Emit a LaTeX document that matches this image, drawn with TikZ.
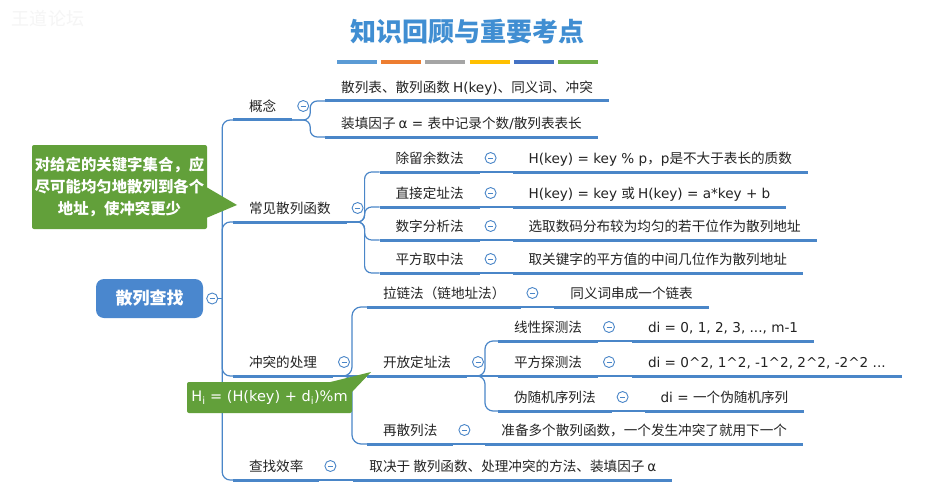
\documentclass[tikz,border=0pt]{standalone}
\usepackage{fontspec}
\usepackage{tikz}
\usetikzlibrary{positioning,calc}
\setmainfont{DejaVu Sans}
\newfontfamily\cjkfont{Noto Sans CJK SC}
% CJK characters switch to the CJK font by themselves
\XeTeXinterchartokenstate=1
\newXeTeXintercharclass\cjkclass
\newcount\cjkcnt
\newcommand{\setcjkrange}[2]{\cjkcnt=#1\relax
  \loop\XeTeXcharclass\cjkcnt=\cjkclass\relax \advance\cjkcnt by 1 \ifnum\cjkcnt<#2\relax\repeat}
\setcjkrange{"3000}{"3040}
\setcjkrange{"4E00}{"A000}
\setcjkrange{"FF00}{"FFF0}
\XeTeXinterchartoks 0 \cjkclass = {\cjkfont}
\XeTeXinterchartoks 4095 \cjkclass = {\cjkfont}
\XeTeXinterchartoks \cjkclass 0 = {\rmfamily}
\XeTeXinterchartoks 4095 0 = {\rmfamily}

\definecolor{lineblue}{RGB}{74,134,200}
\definecolor{rootblue}{RGB}{74,135,206}
\definecolor{titleblue}{RGB}{64,142,210}
\definecolor{notegreen}{RGB}{98,160,58}
\definecolor{textgray}{RGB}{35,35,35}
\definecolor{barA}{RGB}{91,155,213}
\definecolor{barB}{RGB}{237,125,49}
\definecolor{barC}{RGB}{165,165,165}
\definecolor{barD}{RGB}{255,192,0}
\definecolor{barE}{RGB}{68,114,196}
\definecolor{barF}{RGB}{112,173,71}

\tikzset{
  topic/.style={anchor=south west, inner xsep=16pt, inner ysep=0pt, outer sep=0pt,
    text height=12pt, text depth=8.8pt, text=textgray, font=\fontsize{13.6}{16}\selectfont},
  uline/.style={draw=lineblue, line width=3pt},
  link/.style={draw=lineblue, line width=1.2pt},
  fold/.style={circle, draw=lineblue, line width=0.9pt, fill=white, minimum size=11pt, inner sep=0pt,
    path picture={\draw[lineblue, line width=0.9pt]
      ([xshift=-2.5pt]path picture bounding box.center) -- ([xshift=2.5pt]path picture bounding box.center);}},
  rootbox/.style={fill=rootblue, rounded corners=8pt, minimum width=107pt, minimum height=39pt,
    text=white, font=\fontsize{17}{20}\selectfont\bfseries},
  note/.style={fill=notegreen, rounded corners=2pt, text=white, align=center, inner sep=0pt},
}

\begin{document}
\begin{tikzpicture}[x=1pt,y=-1pt]
\fill[white] (0,0) rectangle (931,492);
\useasboundingbox (0,0) rectangle (931,492);

% title and colour bars
\node[text=black!4, font=\fontsize{18}{20}\selectfont] (wm) at (48,19) {王道论坛};
\node[text=titleblue, font=\fontsize{26}{30}\selectfont\bfseries] (title) at (467,32) {知识回顾与重要考点};
\foreach \c [count=\i from 0] in {barA,barB,barC,barD,barE,barF}
  \draw[\c, line width=4.5pt] (337+44.2*\i,62) -- ++(40,0);

% root and first level
\node[rootbox] (root) at (149.5,298.5) {散列查找};
\node[topic] (gn) at (233,120) {概念};
\node[topic] (hs) at (233,222) {常见散列函数};
\node[topic] (ct) at (233,376) {冲突的处理};
\node[topic] (xl) at (233,480) {查找效率};

% 概念
\node[topic] (gn1) at ([xshift=33pt,yshift=19pt]gn.south east) {散列表、散列函数 H(key)、同义词、冲突};
\node[topic] (gn2) at ([xshift=33pt,yshift=-17pt]gn.south east) {装填因子 α = 表中记录个数/散列表表长};

% 常见散列函数
\node[topic] (fn1) at ([xshift=33pt,yshift=50pt]hs.south east) {除留余数法};
\node[topic] (fn2) at ([xshift=33pt,yshift=15pt]hs.south east) {直接定址法};
\node[topic] (fn3) at ([xshift=33pt,yshift=-18pt]hs.south east) {数字分析法};
\node[topic] (fn4) at ([xshift=33pt,yshift=-51pt]hs.south east) {平方取中法};
\node[topic, right=33pt of fn1] (fn1d) {H(key) = key \% p，p是不大于表长的质数};
\node[topic, right=33pt of fn2] (fn2d) {H(key) = key 或 H(key) = a*key + b};
\node[topic, right=33pt of fn3] (fn3d) {选取数码分布较为均匀的若干位作为散列地址};
\node[topic, right=33pt of fn4] (fn4d) {取关键字的平方值的中间几位作为散列地址};

% 冲突的处理
\node[topic] (lz) at ([xshift=34pt,yshift=69pt]ct.south east) {拉链法（链地址法）};
\node[topic] (kf) at ([xshift=34pt]ct.south east) {开放定址法};
\node[topic] (zs) at ([xshift=34pt,yshift=-68pt]ct.south east) {再散列法};
\node[topic, right=33pt of lz] (lzd) {同义词串成一个链表};
\node[topic, right=32pt of zs] (zsd) {准备多个散列函数，一个发生冲突了就用下一个};
\node[topic] (xx) at ([xshift=31pt,yshift=35pt]kf.south east) {线性探测法};
\node[topic] (pf) at ([xshift=31pt]kf.south east) {平方探测法};
\node[topic] (wsj) at ([xshift=31pt,yshift=-35pt]kf.south east) {伪随机序列法};
\node[topic, right=34pt of xx] (xxd) {di = 0, 1, 2, 3, ..., m-1};
\node[topic, right=34pt of pf] (pfd) {di = 0\textasciicircum2, 1\textasciicircum2, -1\textasciicircum2, 2\textasciicircum2, -2\textasciicircum2 ...};
\node[topic, right=33pt of wsj] (wsjd) {di = 一个伪随机序列};

% 查找效率
\node[topic, right=34pt of xl] (xld) {取决于 散列函数、处理冲突的方法、装填因子 α};

% connectors
\node[fold] (root-f) at ([xshift=9pt]root.east) {};
\coordinate (rt-j) at ([xshift=19pt]root.east);
\draw[link] (root-f.east) -- (rt-j);
\foreach \c in {gn,hs,ct,xl}
  \draw[link, rounded corners=8pt] (rt-j) |- (\c.south west);
\coordinate (gn-j) at ([xshift=18pt]gn.south east);
\coordinate (hs-j) at ([xshift=18pt]hs.south east);
\coordinate (ct-j) at ([xshift=19pt]ct.south east);
\coordinate (kf-j) at ([xshift=18pt]kf.south east);
\foreach \c in {gn1,gn2}
  \draw[link, rounded corners=7pt] (gn.south east) -- (gn-j) |- (\c.south west);
\foreach \c in {fn1,fn2,fn3,fn4}
  \draw[link, rounded corners=7pt] (hs.south east) -- (hs-j) |- (\c.south west);
\foreach \c in {lz,zs}
  \draw[link, rounded corners=9pt] (ct.south east) -- (ct-j) |- (\c.south west);
\draw[link] (ct.south east) -- (kf.south west);
\foreach \c in {xx,wsj}
  \draw[link, rounded corners=8pt] (kf.south east) -- (kf-j) |- (\c.south west);
\draw[link] (kf.south east) -- (pf.south west);
\foreach \a/\b in {fn1/fn1d,fn2/fn2d,fn3/fn3d,fn4/fn4d,lz/lzd,zs/zsd,xx/xxd,pf/pfd,wsj/wsjd,xl/xld}
  \draw[link] (\a.south east) -- (\b.south west);

% underlines and fold buttons
\foreach \n in {gn,gn1,gn2,hs,fn1,fn2,fn3,fn4,fn1d,fn2d,fn3d,fn4d,ct,lz,kf,zs,lzd,zsd,xx,pf,wsj,xxd,pfd,wsjd,xl,xld}
  \draw[uline] (\n.south west) -- (\n.south east);
\foreach \n in {gn,hs,fn1,fn2,fn3,fn4,ct,lz,kf,zs,xx,pf,wsj,xl}
  \node[fold] (\n-f) at ([xshift=11pt,yshift=14pt]\n.south east) {};

% callouts
\node[note, minimum width=175pt, minimum height=84pt, font=\fontsize{15.4}{22}\selectfont\bfseries] (note1) at (119.5,187)
  {对给定的关键字集合，应\\尽可能均匀地散列到各个\\地址，使冲突更少};
\fill[notegreen] ([xshift=-1pt]note1.east) -- ([xshift=4pt,yshift=17pt]hs.south west) -- ([xshift=-1pt,yshift=-31pt]note1.east) -- cycle;
\node[note, minimum width=165pt, minimum height=31pt, font=\fontsize{14.5}{17}\selectfont] (note2) at (269.5,397.5)
  {H\textsubscript{i} = (H(key) + d\textsubscript{i})\%m};
\fill[notegreen] ([xshift=-25pt,yshift=-1pt]note2.north east) -- ([xshift=4pt,yshift=4pt]kf.south west) -- ([xshift=-1pt,yshift=-11pt]note2.north east) -- cycle;
\end{tikzpicture}
\end{document}
